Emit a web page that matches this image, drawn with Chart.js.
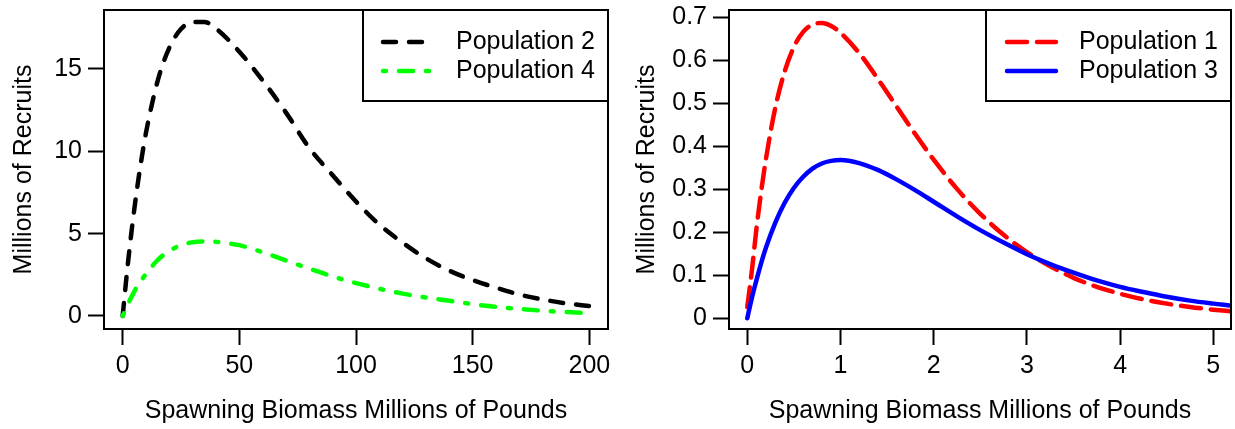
<!DOCTYPE html>
<html>
<head>
<meta charset="utf-8">
<script src="https://cdn.jsdelivr.net/npm/chart.js@4"></script>
<style>
  body { margin: 0; background: #fff; }
  .panel { position: absolute; top: 0; }
</style>
</head>
<body>
<canvas id="leftChart" class="panel" width="617" height="429" style="left:0"></canvas>
<canvas id="rightChart" class="panel" width="618" height="429" style="left:617px"></canvas>
<script>
// left panel: spawning biomass (millions of lb) vs recruits
const xLeft = [0, 2, 4, 6, 8, 10, 15, 20, 25, 30, 35, 40, 50, 60, 70, 80, 90, 100, 110, 120, 130, 140, 150, 160, 170, 180, 190, 200];
const pop2 = [0, 2.86, 5.37, 7.56, 9.47, 11.13, 14.28, 16.29, 17.42, 17.85, 17.85, 17.45, 16.05, 14.3, 12.35, 10.2, 8.55, 6.95, 5.55, 4.45, 3.5, 2.75, 2.18, 1.72, 1.3, 1.0, 0.77, 0.6];
const pop4 = [0, 0.64, 1.22, 1.75, 2.17, 2.55, 3.4, 3.95, 4.3, 4.48, 4.53, 4.5, 4.3, 3.87, 3.37, 2.87, 2.4, 2.0, 1.65, 1.36, 1.12, 0.92, 0.72, 0.56, 0.43, 0.32, 0.24, 0.17];

// right panel
const xRight = [0, 0.05, 0.1, 0.15, 0.2, 0.3, 0.4, 0.5, 0.6, 0.7, 0.8, 0.9, 1, 1.2, 1.4, 1.6, 1.8, 2, 2.25, 2.5, 2.75, 3, 3.25, 3.5, 3.75, 4, 4.25, 4.5, 4.75, 5, 5.2];
const pop1 = [0.026, 0.112, 0.211, 0.296, 0.37, 0.489, 0.573, 0.631, 0.666, 0.683, 0.687, 0.68, 0.664, 0.617, 0.557, 0.493, 0.429, 0.369, 0.301, 0.243, 0.194, 0.154, 0.121, 0.094, 0.073, 0.057, 0.044, 0.034, 0.026, 0.02, 0.016];
const pop3 = [0, 0.048, 0.09, 0.129, 0.164, 0.222, 0.268, 0.303, 0.329, 0.348, 0.36, 0.366, 0.368, 0.361, 0.345, 0.323, 0.298, 0.271, 0.237, 0.205, 0.176, 0.149, 0.126, 0.106, 0.088, 0.073, 0.061, 0.05, 0.041, 0.034, 0.029];

const xTicksLeft = [0, 50, 100, 150, 200];
const xLabelsLeft = ['0', '50', '100', '150', '200'];
const yTicksLeft = [0, 5, 10, 15];
const yLabelsLeft = ['0', '5', '10', '15'];
const xTicksRight = [0, 1, 2, 3, 4, 5];
const xLabelsRight = ['0', '1', '2', '3', '4', '5'];
const yTicksRight = [0, 0.1, 0.2, 0.3, 0.4, 0.5, 0.6, 0.7];
const yLabelsRight = ['0', '0.1', '0.2', '0.3', '0.4', '0.5', '0.6', '0.7'];

const xTitle = 'Spawning Biomass Millions of Pounds';
const yTitle = 'Millions of Recruits';
const FONT = "'Liberation Sans', Arial, sans-serif";

function points(xs, ys) {
  return xs.map((x, i) => ({ x, y: ys[i] }));
}

function curve(label, xs, ys, color, dash, order) {
  return {
    label,
    data: points(xs, ys),
    borderColor: color,
    borderWidth: 4.5,
    borderDash: dash,
    borderCapStyle: 'round',
    borderJoinStyle: 'round',
    cubicInterpolationMode: 'monotone',
    pointRadius: 0,
    fill: false,
    clip: 1,
    order
  };
}

const framePlugin = {
  id: 'frame',
  afterDatasetsDraw(chart) {
    const { ctx, chartArea: a } = chart;
    ctx.save();
    ctx.strokeStyle = '#000';
    ctx.lineWidth = 2;
    ctx.strokeRect(a.left, a.top, a.right - a.left, a.bottom - a.top);
    ctx.restore();
  }
};

// R style legend box in the top right corner of the plot
const boxLegend = {
  id: 'boxLegend',
  afterDraw(chart, args, opts) {
    const { ctx, chartArea: a } = chart;
    const left = a.right - opts.width;
    const top = a.top;
    ctx.save();
    ctx.fillStyle = '#fff';
    ctx.fillRect(left, top, opts.width, opts.height);
    ctx.strokeStyle = '#000';
    ctx.lineWidth = 2;
    ctx.strokeRect(left, top, opts.width, opts.height);
    chart.data.datasets.forEach((ds, i) => {
      const y = top + 32 + i * 29;
      ctx.beginPath();
      ctx.setLineDash(ds.borderDash || []);
      ctx.lineCap = 'round';
      ctx.strokeStyle = ds.borderColor;
      ctx.lineWidth = ds.borderWidth;
      ctx.moveTo(left + opts.sampleStart, y);
      ctx.lineTo(left + opts.sampleStart + 49, y);
      ctx.stroke();
      ctx.setLineDash([]);
      ctx.fillStyle = '#000';
      ctx.font = '25px ' + FONT;
      ctx.textBaseline = 'middle';
      ctx.textAlign = 'left';
      ctx.fillText(ds.label, left + 93, y);
    });
    ctx.restore();
  }
};

function axis(min, max, tickValues, tickLabels, title, size, isY, titlePad) {
  return {
    type: 'linear',
    min,
    max,
    afterBuildTicks: (scale) => {
      scale.ticks = tickValues.map(v => ({ value: v }));
    },
    afterFit: (scale) => {
      if (isY) scale.width = size; else scale.height = size;
      scale.paddingLeft = 0;
      scale.paddingRight = 0;
      scale.paddingTop = 0;
      scale.paddingBottom = 0;
    },
    ticks: {
      callback: (value, index) => tickLabels[index],
      font: { family: FONT, size: 25 },
      color: '#000',
      padding: 6,
      autoSkip: false,
      maxRotation: 0
    },
    grid: {
      drawOnChartArea: false,
      drawTicks: true,
      tickLength: 16,
      tickWidth: 2,
      tickColor: '#000'
    },
    border: { display: false },
    title: {
      display: true,
      text: title,
      color: '#000',
      font: { family: FONT, size: 25 },
      padding: isY ? { top: titlePad, bottom: 0 } : { top: 0, bottom: titlePad }
    }
  };
}

function makePanel(canvasId, datasets, scales, padRight, legendStart) {
  return new Chart(document.getElementById(canvasId), {
    type: 'line',
    data: { datasets },
    options: {
      responsive: false,
      animation: false,
      devicePixelRatio: 1,
      layout: { padding: { top: 10, right: padRight, left: 0, bottom: 0 } },
      scales,
      plugins: {
        legend: { display: false },
        tooltip: { enabled: false },
        boxLegend: { width: 245, height: 91, sampleStart: legendStart }
      }
    },
    plugins: [framePlugin, boxLegend]
  });
}

makePanel('leftChart', [
  curve('Population 2', xLeft, pop2, '#000000', [13, 13], 1),
  curve('Population 4', xLeft, pop4, '#00ff00', [3, 13, 14, 13], 0)
], {
  x: axis(-8, 208, xTicksLeft, xLabelsLeft, xTitle, 100, false, 3),
  y: axis(-0.79, 18.58, yTicksLeft, yLabelsLeft, yTitle, 104, true, 9)
}, 9, 20);

makePanel('rightChart', [
  curve('Population 1', xRight, pop1, '#ff0000', [20, 10], 1),
  curve('Population 3', xRight, pop3, '#0000ff', [], 0)
], {
  x: axis(-0.196, 5.19, xTicksRight, xLabelsRight, xTitle, 100, false, 3),
  y: axis(-0.025, 0.717, yTicksRight, yLabelsRight, yTitle, 112, true, 15)
}, 4, 21);
</script>
</body>
</html>
